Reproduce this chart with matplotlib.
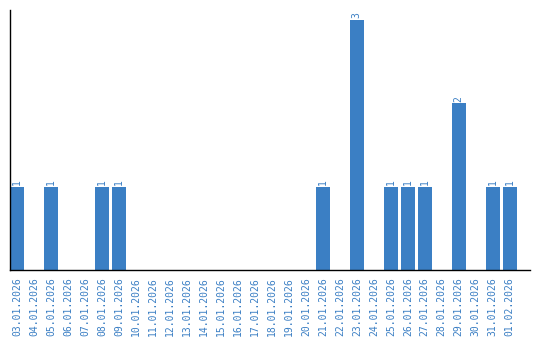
import matplotlib
matplotlib.use("Agg")
import matplotlib.pyplot as plt

# data
dates = ["03.01.2026", "04.01.2026", "05.01.2026", "06.01.2026", "07.01.2026",
         "08.01.2026", "09.01.2026", "10.01.2026", "11.01.2026", "12.01.2026",
         "13.01.2026", "14.01.2026", "15.01.2026", "16.01.2026", "17.01.2026",
         "18.01.2026", "19.01.2026", "20.01.2026", "21.01.2026", "22.01.2026",
         "23.01.2026", "24.01.2026", "25.01.2026", "26.01.2026", "27.01.2026",
         "28.01.2026", "29.01.2026", "30.01.2026", "31.01.2026", "01.02.2026"]
counts = [1, 0, 1, 0, 0, 1, 1, 0, 0, 0,
          0, 0, 0, 0, 0, 0, 0, 0, 1, 0,
          3, 0, 1, 1, 1, 0, 2, 0, 1, 1]

blue = "#3b7fc4"
width = 0.82

fig = plt.figure(figsize=(5.4, 3.4), dpi=100)
ax = fig.add_axes([10 / 540, 70 / 340, 520 / 540, 260 / 340])

x = list(range(len(dates)))
ax.bar(x, counts, width=width, color=blue, linewidth=0)

# value labels on top of non-zero bars
for xi, v in zip(x, counts):
    if v > 0:
        ax.text(xi, v + 0.02, str(v), rotation=90, ha="center", va="bottom",
                color=blue, fontsize=7, family="DejaVu Sans Mono")

ax.set_xlim(-width / 2, -width / 2 + 30.6)
ax.set_ylim(0, 3.12)
ax.set_xticks(x)
ax.set_xticklabels(dates, rotation=90, color=blue, fontsize=7,
                   family="DejaVu Sans Mono")
ax.tick_params(axis="x", length=0, pad=5)
ax.set_yticks([])

for s in ["top", "right"]:
    ax.spines[s].set_visible(False)
ax.spines["left"].set_linewidth(1)
ax.spines["bottom"].set_linewidth(1)

fig.savefig("out.png", dpi=100)
